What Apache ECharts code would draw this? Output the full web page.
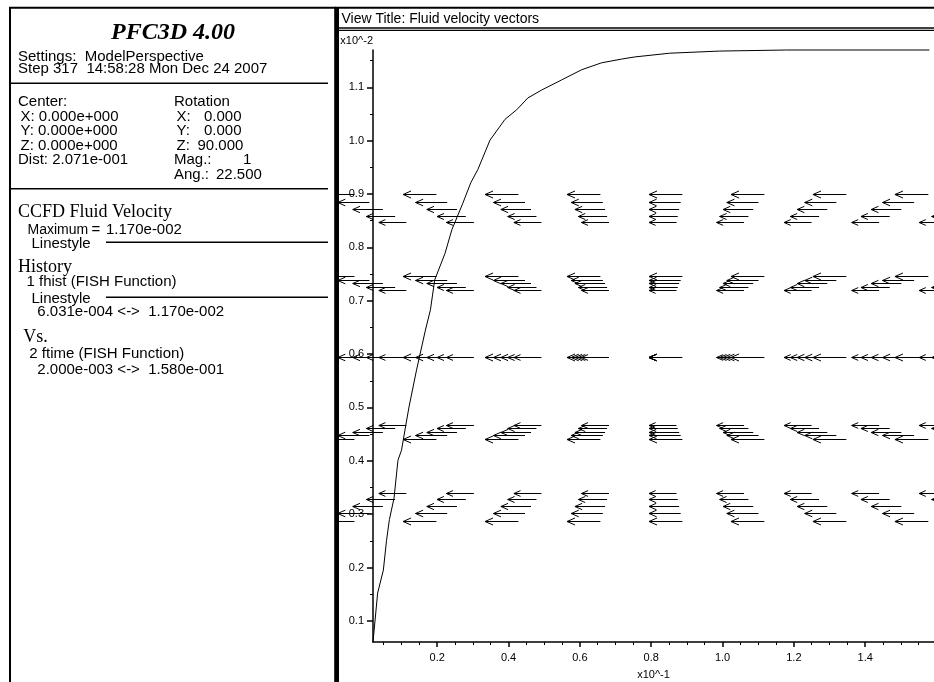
<!DOCTYPE html>
<html>
<head>
<meta charset="utf-8">
<title>PFC3D 4.00 - Fluid velocity vectors</title>
<script src="https://cdn.jsdelivr.net/npm/echarts@6/dist/echarts.min.js"></script>
<style>
  html, body { margin: 0; padding: 0; background: #fff; }
  #chart { width: 934px; height: 682px; }
</style>
</head>
<body>
<div id="chart"></div>
<script>
// ---- History 1 (fhist): fluid velocity (x10^-2) against ftime (x10^-1) ----
const historyTime = [
  0.020, 0.033, 0.049, 0.058, 0.066, 0.079, 0.090, 0.100, 0.112, 0.121,
  0.142, 0.167, 0.181, 0.193, 0.222, 0.241, 0.272, 0.294, 0.314, 0.348,
  0.390, 0.423, 0.454, 0.493, 0.549, 0.605, 0.661, 0.717, 0.754, 0.852,
  0.992, 1.179, 1.580
];
const historyVelocity = [
  0.0603, 0.152, 0.195, 0.251, 0.290, 0.330, 0.401, 0.420, 0.467, 0.501,
  0.570, 0.645, 0.683, 0.739, 0.789, 0.833, 0.883, 0.921, 0.946, 1.001,
  1.040, 1.058, 1.080, 1.095, 1.114, 1.133, 1.146, 1.153, 1.157, 1.164,
  1.168, 1.170, 1.170
];

// ---- Axis ticks ----
const xMajorTicks = [0.2, 0.4, 0.6, 0.8, 1.0, 1.2, 1.4];
const xMinorTicks = [0.05, 0.1, 0.15, 0.25, 0.3, 0.35, 0.45, 0.5, 0.55, 0.65, 0.7, 0.75,
                     0.85, 0.9, 0.95, 1.05, 1.1, 1.15, 1.25, 1.3, 1.35, 1.45, 1.5, 1.55];
const yMajorTicks = [0.1, 0.2, 0.3, 0.4, 0.5, 0.6, 0.7, 0.8, 0.9, 1.0, 1.1];
const yMinorTicks = [0.15, 0.25, 0.35, 0.45, 0.55, 0.65, 0.75, 0.85, 0.95, 1.05, 1.15];

// ---- CCFD fluid velocity field: cell centres (model units) ----
const fieldColumnsX = [-0.04, -0.03, -0.02, -0.01, 0.00, 0.01, 0.02, 0.03, 0.04];
const fieldRowsY = [0.02, 0.01, 0.00, -0.01, -0.02];
const fieldLayersZ = [-0.02, -0.01, 0.00, 0.01, 0.02];
const fieldRowVelocity = [-1.170e-2, -1.170e-2, -1.170e-2, -1.170e-2, -1.170e-2];

// ---- View (ModelPerspective) ----
const viewDistance = 0.2071;   // Dist
const vectorScale = 0.348;     // drawn length per unit velocity
const headLength = 0.24;       // arrowhead length, fraction of vector length
const headWidth = 0.105;       // arrowhead half width, fraction of vector length

const SANS = "'Liberation Sans', Arial, Helvetica, sans-serif";
const SERIF = "'Liberation Serif', 'Times New Roman', Times, serif";

const fieldItems = [];
fieldRowsY.forEach((Y, r) => {
  fieldColumnsX.forEach(X => {
    fieldLayersZ.forEach(Z => fieldItems.push([X, Y, Z, fieldRowVelocity[r]]));
  });
});

function renderVector(params, api) {
  const X = api.value(0), Y = api.value(1), Z = api.value(2), vx = api.value(3);
  const depth = viewDistance + Z;
  const project = (x, y) => api.coord([x / depth, y / depth]);
  const len = -vx * vectorScale;
  const tip = project(X, Y);
  const tail = project(X + len, Y);
  const w1 = project(X + headLength * len, Y + headWidth * len);
  const w2 = project(X + headLength * len, Y - headWidth * len);
  const yy = Math.round(tip[1]) + 0.5;
  const dy = yy - tip[1];
  const st = { stroke: '#000', lineWidth: 1, fill: null };
  return {
    type: 'group',
    children: [
      { type: 'polyline', shape: { points: [[tail[0], yy], [tip[0], yy]] }, style: st },
      { type: 'polyline', shape: { points: [[w1[0], w1[1] + dy], [tip[0], yy], [w2[0], w2[1] + dy]] }, style: st }
    ]
  };
}

function txt(text, x, y, font, align) {
  const a = align || 'left';
  return {
    type: 'text', x: x, y: y, silent: true, z: 100,
    style: { text: text, font: font, fill: '#000', textAlign: a, textVerticalAlign: 'middle', align: a, verticalAlign: 'middle' }
  };
}
function seg(x1, y1, x2, y2, w) {
  return { type: 'line', silent: true, z: 100, shape: { x1: x1, y1: y1, x2: x2, y2: y2 }, style: { stroke: '#000', lineWidth: w } };
}

const F15 = '15px ' + SANS;
const panel = [
  // left information panel
  { type: 'rect', silent: true, z: 99, shape: { x: 10, y: 7.7, width: 325.2, height: 700 }, style: { fill: '#fff', stroke: '#000', lineWidth: 2 } },
  txt('PFC3D 4.00', 173, 33, 'italic bold 24px ' + SERIF, 'center'),
  txt('Settings:  ModelPerspective', 18, 56.5, F15),
  txt('Step 317  14:58:28 Mon Dec 24 2007', 18, 68.5, F15),
  seg(10, 83.3, 328, 83.3, 1.6),
  txt('Center:', 18, 101.5, F15),
  txt('X: 0.000e+000', 20.5, 116.5, F15),
  txt('Y: 0.000e+000', 20.5, 131, F15),
  txt('Z: 0.000e+000', 20.5, 145.5, F15),
  txt('Dist: 2.071e-001', 18, 159.5, F15),
  txt('Rotation', 174, 101.5, F15),
  txt('X:', 176.5, 116.5, F15), txt('0.000', 204, 116.5, F15),
  txt('Y:', 176.5, 131, F15), txt('0.000', 204, 131, F15),
  txt('Z:', 176.5, 145.5, F15), txt('90.000', 197.5, 145.5, F15),
  txt('Mag.:', 174, 159.5, F15), txt('1', 243, 159.5, F15),
  txt('Ang.:', 174, 174.5, F15), txt('22.500', 216, 174.5, F15),
  seg(10, 188.7, 328, 188.7, 1.6),
  txt('CCFD Fluid Velocity', 18, 212.5, '18px ' + SERIF),
  txt('Maximum', 27.5, 230, '14px ' + SANS), txt('=', 91.5, 230, F15), txt('1.170e-002', 106, 230, F15),
  txt('Linestyle', 31.5, 244.3, F15),
  seg(106, 242.3, 328, 242.3, 1.4),
  txt('History', 18, 267.5, '18px ' + SERIF),
  txt('1 fhist (FISH Function)', 26.5, 282.3, F15),
  txt('Linestyle', 31.5, 299, F15),
  seg(106, 297.3, 328, 297.3, 1.4),
  txt('6.031e-004 <->  1.170e-002', 37.3, 311.7, F15),
  txt('Vs.', 23.3, 337, '18px ' + SERIF),
  txt('2 ftime (FISH Function)', 29.3, 354.3, F15),
  txt('2.000e-003 <->  1.580e-001', 37.3, 370, F15),
  // view frame
  seg(335, 7.7, 934, 7.7, 2),
  seg(337.5, 7, 337.5, 682, 3),
  txt('View Title: Fluid velocity vectors', 341.5, 19.5, '14px ' + SANS),
  seg(336, 28, 934, 28, 1.3),
  seg(336, 30.3, 934, 30.3, 1.3)
];

const axisText = { fontFamily: SANS, fontSize: 11, color: '#000' };

const option = {
  animation: false,
  backgroundColor: '#fff',
  grid: [
    { left: 373, top: 50, width: 561, height: 592, containLabel: false, outerBoundsMode: 'none' },
    { left: 339, top: 31, width: 620, height: 651, containLabel: false, outerBoundsMode: 'none' }
  ],
  xAxis: [
    {
      gridIndex: 0, type: 'value', position: 'bottom', min: 0.02, max: 1.5928,
      name: 'x10^-1', nameLocation: 'middle', nameGap: 33,
      nameTextStyle: Object.assign({ verticalAlign: 'middle' }, axisText),
      axisLine: { lineStyle: { color: '#000', width: 1.5 } },
      axisTick: { customValues: xMajorTicks, length: 5, lineStyle: { color: '#000', width: 1.5 } },
      axisLabel: Object.assign({ customValues: xMajorTicks, margin: 10, formatter: v => v.toFixed(1) }, axisText),
      splitLine: { show: false }
    },
    {
      gridIndex: 0, type: 'value', position: 'bottom', offset: 0, min: 0.02, max: 1.5928,
      axisLine: { show: false },
      axisTick: { customValues: xMinorTicks, length: 3, lineStyle: { color: '#000', width: 1 } },
      axisLabel: { show: false },
      splitLine: { show: false }
    },
    { gridIndex: 1, type: 'value', min: -0.2021, max: 0.2021, show: false }
  ],
  yAxis: [
    {
      gridIndex: 0, type: 'value', position: 'left', min: 0.0603, max: 1.17,
      name: 'x10^-2', nameLocation: 'end', nameGap: 9,
      nameTextStyle: Object.assign({ align: 'right', verticalAlign: 'middle' }, axisText),
      axisLine: { lineStyle: { color: '#000', width: 1.5 } },
      axisTick: { customValues: yMajorTicks, length: 6, lineStyle: { color: '#000', width: 1.5 } },
      axisLabel: Object.assign({ customValues: yMajorTicks, margin: 9, formatter: v => v.toFixed(1) }, axisText),
      splitLine: { show: false }
    },
    {
      gridIndex: 0, type: 'value', position: 'left', offset: 0, min: 0.0603, max: 1.17,
      axisLine: { show: false },
      axisTick: { customValues: yMinorTicks, length: 3, lineStyle: { color: '#000', width: 1 } },
      axisLabel: { show: false },
      splitLine: { show: false }
    },
    { gridIndex: 1, type: 'value', min: -0.21154, max: 0.21284, show: false }
  ],
  graphic: panel,
  series: [
    {
      type: 'custom', name: 'CCFD Fluid Velocity',
      xAxisIndex: 2, yAxisIndex: 2, clip: true, silent: true, z: 2,
      renderItem: renderVector, data: fieldItems
    },
    {
      type: 'line', name: 'fhist',
      xAxisIndex: 0, yAxisIndex: 0, clip: false, z: 3,
      symbol: 'none', showSymbol: false,
      lineStyle: { color: '#000', width: 1 },
      data: historyTime.map((t, i) => [t, historyVelocity[i]])
    }
  ]
};

const chart = echarts.init(document.getElementById('chart'));
chart.setOption(option);
</script>
</body>
</html>
